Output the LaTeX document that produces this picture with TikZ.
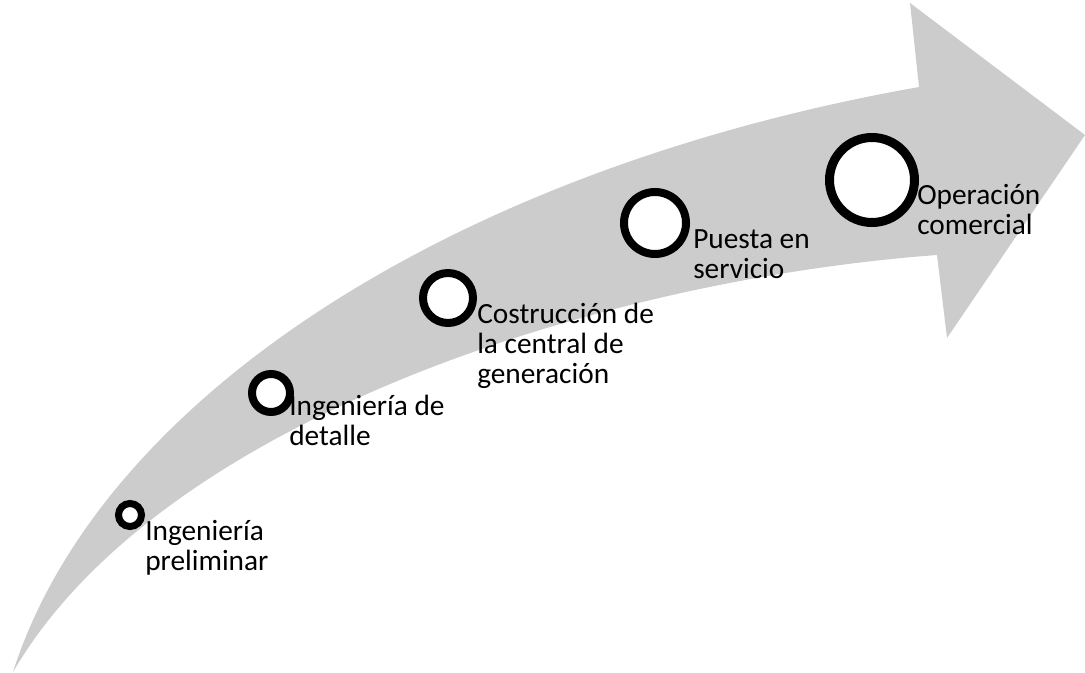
\documentclass[tikz,border=0pt]{standalone}
\usepackage{fontspec}
\setmainfont{Carlito}
\usetikzlibrary{shadows}

\begin{document}
\begin{tikzpicture}[x=0.75pt,y=-0.75pt,
milestonenode/.style={circle, draw=black, fill=white, line width=6pt, inner sep=0pt, drop shadow={opacity=0.3, shadow xshift=1.5pt, shadow yshift=-1.5pt}},
labelnode/.style={anchor=north west, inner sep=0pt, align=left, font=\fontsize{22}{22.5}\selectfont},
big arrow/.style={fill=black!20, draw=none}
]
\useasboundingbox (0,0) rectangle (1085,673);

%Arrow
\fill[big arrow] (13,672) .. controls (100,400) and (450,170) .. (919,87)
  -- (910,3) -- (1085,135) -- (947,338) -- (937,255)
  .. controls (600,280) and (160,420) .. (13,672) -- cycle;

%Nodes
\node[milestonenode, minimum size=17.25pt, line width=5.25pt] at (130,515) (hito1) {};
\node[milestonenode, minimum size=28.5pt] at (271,393) (hito2) {};
\node[milestonenode, minimum size=37.5pt] at (448,298) (hito3) {};
\node[milestonenode, minimum size=46.5pt] at (655,223) (hito4) {};
\node[milestonenode, minimum size=63.75pt, line width=6.75pt] at (872,180) (hito5) {};

\node[labelnode] at (145,516) (texto1) {\rule{0pt}{18pt}Ingeniería\\preliminar};
\node[labelnode] at (289,391) (texto2) {\rule{0pt}{18pt}Ingeniería de\\detalle};
\node[labelnode] at (477,299) (texto3) {\rule{0pt}{18pt}Costrucción de\\la central de\\generación};
\node[labelnode] at (693,224) (texto4) {\rule{0pt}{18pt}Puesta en\\servicio};
\node[labelnode] at (917,180) (texto5) {\rule{0pt}{18pt}Operación\\comercial};
\end{tikzpicture}
\end{document}
